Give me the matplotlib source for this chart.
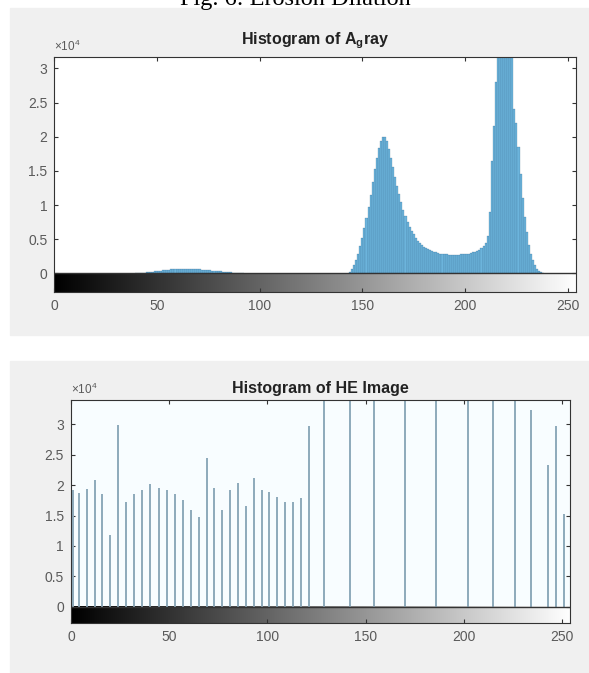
import numpy as np
import matplotlib
matplotlib.use("Agg")
import matplotlib.pyplot as plt
from matplotlib.patches import Rectangle
from matplotlib.ticker import FuncFormatter

plt.rcParams['font.family'] = ['Liberation Sans', 'DejaVu Sans']
plt.rcParams['mathtext.fontset'] = 'custom'
plt.rcParams['mathtext.rm'] = 'Liberation Sans'
plt.rcParams['mathtext.bf'] = 'Liberation Sans:bold'

# A_gray histogram: small bump (gray levels 40..92) and main part (144..238)
agray_lo_start = 40
agray_lo_counts = [40, 60, 80, 100, 120, 150, 180, 210, 250, 290,
                   330, 370, 410, 440, 470, 500, 530, 560, 580, 600,
                   620, 630, 640, 650, 650, 650, 640, 630, 620, 610,
                   590, 570, 550, 530, 500, 470, 440, 410, 380, 350,
                   320, 290, 260, 230, 200, 170, 140, 110, 90, 70,
                   50, 30, 20]
agray_hi_start = 144
agray_hi_counts = [200, 600, 1200, 2000, 2900, 4000, 5200, 6600, 8100, 9700,
                   11500, 13300, 15200, 16900, 18400, 19400, 20000, 19900, 19300, 18200,
                   16900, 15500, 14100, 12800, 11600, 10400, 9300, 8400, 7500, 6800,
                   6200, 5700, 5200, 4800, 4500, 4200, 3900, 3700, 3500, 3400,
                   3250, 3150, 3050, 2950, 2900, 2850, 2800, 2800, 2750, 2750,
                   2750, 2750, 2750, 2750, 2800, 2800, 2850, 2850, 2900, 2950,
                   3050, 3150, 3300, 3450, 3650, 3950, 4400, 5500, 9000, 16500,
                   21500, 28000, 36000, 42000, 46000, 48000, 47000, 45000, 41000, 35000,
                   24000, 22000, 18500, 14500, 11000, 8200, 6000, 4200, 2900, 1900,
                   1200, 700, 350, 150, 50]

# HE image histogram (stems)
he_levels = [1, 4, 8, 12, 16, 20, 24, 28, 32, 36, 40, 45, 49, 53, 57, 61,
             65, 69, 73, 77, 81, 85, 89, 93, 97, 101, 105, 109, 113, 117, 121,
             129, 142, 154, 170, 186, 202, 215, 226, 234, 243, 247, 251]
he_counts = [19200, 18700, 19400, 20800, 18500, 11800, 29900, 17300, 18500, 19200,
             20100, 19600, 19200, 18500, 17600, 15900, 14800, 24500, 19500, 15900,
             19200, 20400, 16600, 21100, 19200, 18900, 18100, 17300, 17200, 17800,
             29800, 42000, 51000, 46000, 63000, 54000, 49000, 58000, 44000, 32400,
             23300, 29800, 15300]

W, H = 589, 673
fig = plt.figure(figsize=(W / 100, H / 100), dpi=100)
fig.patch.set_facecolor('white')

# gray MATLAB figure panels
fig.patches.append(Rectangle((10 / W, 1 - 335 / H), 579 / W, 327 / H,
                             transform=fig.transFigure, color='#f0f0f0', zorder=-5))
fig.patches.append(Rectangle((10 / W, 0), 579 / W, 1 - 361 / H,
                             transform=fig.transFigure, color='#f0f0f0', zorder=-5))

fig.text(0.501, 1 - 4.5 / H, 'Fig. 6: Erosion Dilation', family='Liberation Serif',
         fontsize=17.5, ha='center', va='baseline', color='black')

tick_color = '#5a5a5a'


def style_axes(ax, ylim):
    ax.set_xticks([0, 50, 100, 150, 200, 250])
    ax.set_yticks([0, 5000, 10000, 15000, 20000, 25000, 30000])
    ax.yaxis.set_major_formatter(FuncFormatter(lambda v, p: '%g' % (v / 1e4)))
    ax.tick_params(direction='in', top=True, right=True, length=3,
                   labelsize=10, colors='#333333', labelcolor=tick_color, pad=5)
    for s in ax.spines.values():
        s.set_color('#333333')
        s.set_linewidth(0.8)
    # gray-level colorbar under the zero line
    grad = np.linspace(0, 1, 256)[None, :]
    ax.imshow(grad, cmap='gray', aspect='auto', extent=(0, 255, ylim[0], 0),
              zorder=1)
    ax.set_xlim(0, 254)
    ax.set_ylim(*ylim)
    ax.axhline(0, color='#333333', lw=1.0, zorder=3)
    ax.text(0.0, 1.01, r'$\times10^4$', transform=ax.transAxes, fontsize=8.5,
            color=tick_color, ha='left', va='bottom')


# top panel
ax1 = fig.add_axes([54.3 / W, 1 - 291.7 / H, (576 - 54.3) / W, (291.7 - 56.7) / H])
lo_bins = np.arange(agray_lo_start, agray_lo_start + len(agray_lo_counts))
hi_bins = np.arange(agray_hi_start, agray_hi_start + len(agray_hi_counts))
for b, c in [(lo_bins, agray_lo_counts), (hi_bins, agray_hi_counts)]:
    ax1.bar(b, c, width=1.0, color='#6cb4dc', edgecolor='#2d5f84', linewidth=0.15,
            zorder=2)
style_axes(ax1, (-2690, 31710))
ax1.set_title(r'Histogram of A$_\mathbf{g}$ray', fontsize=11.5, fontweight='bold',
              color='#222222', pad=9)

# bottom panel
ax2 = fig.add_axes([71 / W, 1 - 623 / H, (570 - 71) / W, (623 - 399.5) / H])
ax2.set_facecolor('#f8fdff')
ax2.vlines(he_levels, 0, he_counts, color='#8eaabb', linewidth=1.4, zorder=2)
style_axes(ax2, (-2680, 34080))
ax2.set_title('Histogram of HE Image', fontsize=11.5, fontweight='bold',
              color='#222222', pad=5)

fig.savefig('out.png', dpi=100)
